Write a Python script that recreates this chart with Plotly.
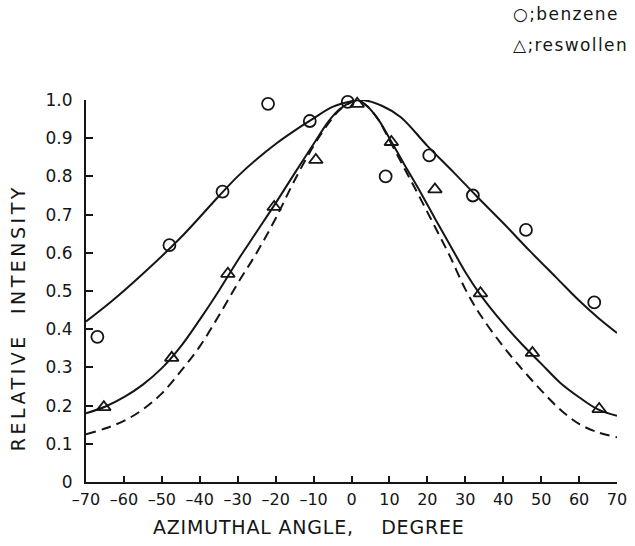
import plotly.graph_objects as go

# ---- measured data points ----
benzene_x = [-67, -48, -34, -22, -11, -1, 9, 20.5, 32, 46, 64]
benzene_y = [0.38, 0.62, 0.76, 0.99, 0.945, 0.995, 0.80, 0.855, 0.75, 0.66, 0.47]

reswollen_x = [-65.3, -47.4, -32.6, -20.4, -9.4, 1.5, 10.5, 22, 34, 47.7, 65.3]
reswollen_y = [0.196, 0.325, 0.545, 0.72, 0.843, 0.99, 0.89, 0.766, 0.494, 0.338, 0.191]

# ---- fitted curves ----
fit_benzene_x = [-70, -63, -55, -45, -35, -30, -25, -20, -15, -10, -5, 0, 3, 8, 13, 20, 27, 33, 40, 47, 54, 60, 65, 70]
fit_benzene_y = [0.42, 0.475, 0.545, 0.64, 0.748, 0.80, 0.845, 0.885, 0.92, 0.952, 0.982, 0.997, 1.0, 0.985, 0.955, 0.88, 0.81, 0.748, 0.678, 0.605, 0.535, 0.475, 0.43, 0.39]

fit_reswollen_x = [-70, -65, -60, -55, -50, -45, -40, -35, -30, -25, -20, -15, -10, -6, -3, 0, 1.5, 4, 7, 10, 14, 18, 22, 26, 30, 34, 40, 45, 50, 55, 60, 65, 70]
fit_reswollen_y = [0.18, 0.197, 0.222, 0.255, 0.298, 0.355, 0.425, 0.50, 0.58, 0.655, 0.73, 0.808, 0.885, 0.945, 0.977, 0.995, 1.0, 0.985, 0.95, 0.90, 0.83, 0.762, 0.69, 0.62, 0.55, 0.49, 0.415, 0.36, 0.31, 0.26, 0.222, 0.19, 0.173]

fit_dashed_x = [-70, -65, -60, -55, -50, -45, -40, -35, -30, -25, -20, -15, -10, -6, -3, 0, 1.5, 4, 7, 10, 14, 18, 22, 26, 30, 34, 40, 45, 50, 55, 60, 65, 70]
fit_dashed_y = [0.125, 0.14, 0.16, 0.19, 0.232, 0.29, 0.355, 0.435, 0.52, 0.60, 0.69, 0.79, 0.88, 0.94, 0.975, 0.995, 1.0, 0.985, 0.95, 0.895, 0.82, 0.745, 0.668, 0.59, 0.505, 0.437, 0.355, 0.295, 0.24, 0.19, 0.152, 0.13, 0.117]

x_ticks = [-70, -60, -50, -40, -30, -20, -10, 0, 10, 20, 30, 40, 50, 60, 70]
x_ticktext = ["\u201370", "\u201360", "\u201350", "\u201340", "\u201330", "\u201320", "\u201310",
              "0", "10", "20", "30", "40", "50", "60", "70"]
y_ticks = [0, 0.1, 0.2, 0.3, 0.4, 0.5, 0.6, 0.7, 0.8, 0.9, 1.0]
y_ticktext = ["0", "0.1", "0.2", "0.3", "0.4", "0.5", "0.6", "0.7", "0.8", "0.9", "1.0"]

x_title = "AZIMUTHAL ANGLE,\u00a0\u00a0\u00a0 DEGREE"
y_title = "RELATIVE\u00a0 INTENSITY"
legend_texts = ["\u25cb;benzene", "\u25b3;reswollen"]

INK = "#151515"
FONT = "DejaVu Sans"

fig = go.Figure()

curve_line = dict(color=INK, width=2, shape="spline", smoothing=1.0)
fig.add_trace(go.Scatter(x=fit_benzene_x, y=fit_benzene_y, mode="lines",
                         line=curve_line, cliponaxis=False, showlegend=False))
fig.add_trace(go.Scatter(x=fit_reswollen_x, y=fit_reswollen_y, mode="lines",
                         line=curve_line, cliponaxis=False, showlegend=False))
fig.add_trace(go.Scatter(x=fit_dashed_x, y=fit_dashed_y, mode="lines",
                         line=dict(curve_line, dash="10px,6px"),
                         cliponaxis=False, showlegend=False))

fig.add_trace(go.Scatter(x=benzene_x, y=benzene_y, mode="markers",
                         marker=dict(symbol="circle-open", size=12, color=INK, line=dict(width=1.8, color=INK)),
                         cliponaxis=False, showlegend=False))
fig.add_trace(go.Scatter(x=reswollen_x, y=reswollen_y, mode="markers",
                         marker=dict(symbol="triangle-up-open", size=12, color=INK, line=dict(width=1.8, color=INK)),
                         cliponaxis=False, showlegend=False))

fig.update_layout(
    width=635, height=546,
    margin=dict(l=86, r=18, t=100, b=64),
    paper_bgcolor="white", plot_bgcolor="white",
    font=dict(family=FONT, color=INK, size=17),
    xaxis=dict(range=[-70, 70], tickvals=x_ticks, ticktext=x_ticktext, tickangle=0,
               automargin=False,
               ticks="inside", ticklen=6, tickwidth=1.5, tickcolor=INK,
               showline=True, linecolor=INK, linewidth=2, showgrid=False, zeroline=False,
               ticklabelstandoff=2,
               tickfont=dict(family=FONT, size=16, color=INK)),
    yaxis=dict(range=[0, 1.0], tickvals=y_ticks, ticktext=y_ticktext,
               automargin=False,
               ticks="inside", ticklen=7, tickwidth=1.5, tickcolor=INK,
               showline=True, linecolor=INK, linewidth=2, showgrid=False, zeroline=False,
               ticklabelstandoff=8,
               tickfont=dict(family=FONT, size=17, color=INK)),
)

# axis titles
fig.add_annotation(text="<span style='letter-spacing:0.8px'>" + x_title + "</span>",
                   xref="paper", yref="paper", x=0.42, y=-0.117,
                   xanchor="center", yanchor="middle", showarrow=False,
                   font=dict(family=FONT, size=19, color=INK))
fig.add_annotation(text="<span style='letter-spacing:3.5px'>" + y_title + "</span>",
                   xref="paper", yref="paper", x=-0.128, y=0.429, textangle=-90,
                   xanchor="center", yanchor="middle", showarrow=False,
                   font=dict(family=FONT, size=19, color=INK))

# legend text
for txt, ypos in zip(legend_texts, [1.225, 1.145]):
    fig.add_annotation(text="<span style='letter-spacing:1.4px'>" + txt + "</span>",
                       xref="paper", yref="paper", x=0.80, y=ypos,
                       xanchor="left", yanchor="middle", showarrow=False,
                       font=dict(family=FONT, size=17, color=INK))

fig.write_html("out.html")
